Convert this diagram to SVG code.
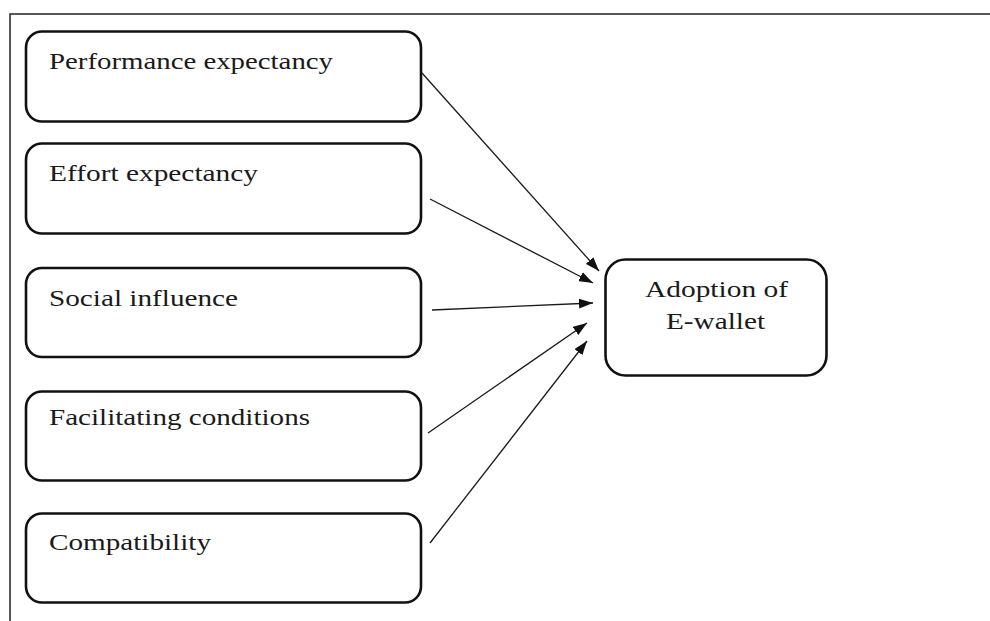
<svg xmlns="http://www.w3.org/2000/svg" width="990" height="621" viewBox="0 0 990 621">
<style>
.box{fill:#fff;stroke:#111;stroke-width:2.6}
.t{font-family:"Liberation Serif","Times New Roman",serif;font-size:24px;fill:#1a1a1a}
.c{stroke:#1a1a1a;stroke-width:1.3;fill:none;marker-end:url(#ah)}
</style>
<defs>
<marker id="ah" viewBox="0 0 10 10" refX="10" refY="5" markerWidth="14" markerHeight="10" markerUnits="userSpaceOnUse" orient="auto" preserveAspectRatio="none">
<path d="M0,0 L10,5 L0,10 Z" fill="#111"/>
</marker>
</defs>
<rect width="990" height="621" fill="#fff"/>
<g id="frame">
<path d="M10,621 V14 H990" fill="none" stroke="#222" stroke-width="1.5"/>
</g>
<g id="performance">
<rect class="box" x="26" y="31.5" width="395" height="90" rx="16"/>
<text class="t" x="49" y="69" textLength="284" lengthAdjust="spacingAndGlyphs">Performance expectancy</text>
</g>
<g id="effort">
<rect class="box" x="26" y="143.5" width="395" height="90" rx="16"/>
<text class="t" x="49" y="180.5" textLength="209" lengthAdjust="spacingAndGlyphs">Effort expectancy</text>
</g>
<g id="social">
<rect class="box" x="26" y="268" width="395" height="89" rx="16"/>
<text class="t" x="49" y="305.5" textLength="189" lengthAdjust="spacingAndGlyphs">Social influence</text>
</g>
<g id="facilitating">
<rect class="box" x="26" y="391.5" width="395" height="89" rx="16"/>
<text class="t" x="49" y="425" textLength="261" lengthAdjust="spacingAndGlyphs">Facilitating conditions</text>
</g>
<g id="compatibility">
<rect class="box" x="26" y="513.5" width="395" height="89" rx="16"/>
<text class="t" x="49" y="550" textLength="162" lengthAdjust="spacingAndGlyphs">Compatibility</text>
</g>
<g id="adoption">
<rect class="box" x="605.5" y="259.5" width="221" height="116" rx="20"/>
<text class="t" x="645" y="297" textLength="143" lengthAdjust="spacingAndGlyphs">Adoption of</text>
<text class="t" x="666" y="329" textLength="99" lengthAdjust="spacingAndGlyphs">E-wallet</text>
</g>
<g id="connectors">
<line class="c" x1="422" y1="73" x2="599" y2="271"/>
<line class="c" x1="430" y1="199" x2="593" y2="283"/>
<line class="c" x1="432" y1="310" x2="593" y2="303"/>
<line class="c" x1="428" y1="433" x2="587" y2="323"/>
<line class="c" x1="430" y1="543" x2="587" y2="341"/>
</g>
</svg>
